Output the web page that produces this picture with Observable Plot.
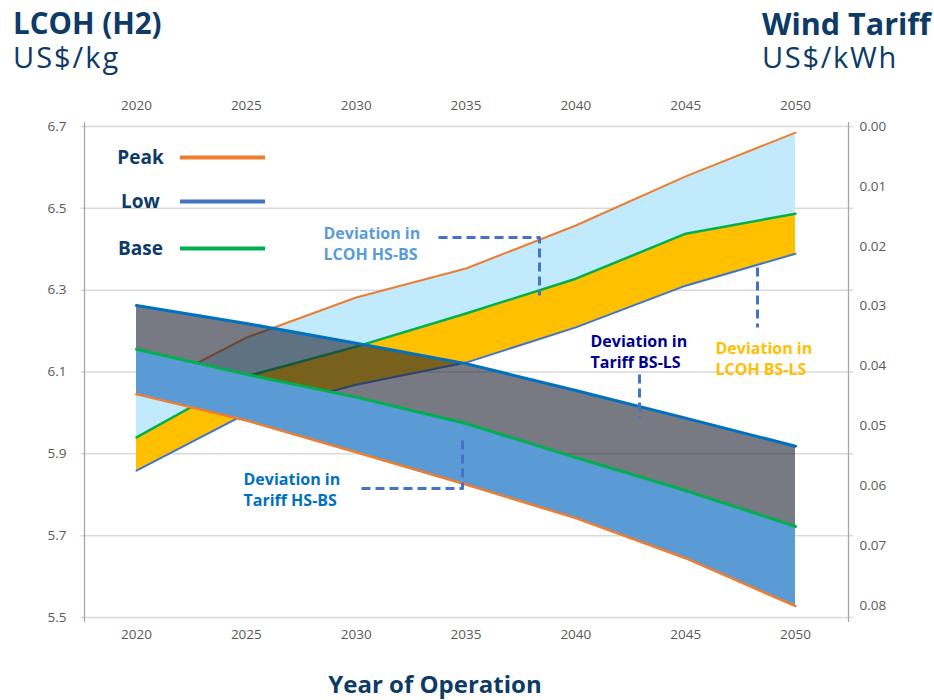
<!DOCTYPE html>
<html><head><meta charset="utf-8">
<script src="https://cdn.jsdelivr.net/npm/d3@7"></script>
<script src="https://cdn.jsdelivr.net/npm/@observablehq/plot@0.6"></script>
<style>
body{margin:0;background:#fff;}
#wrap{position:relative;width:934px;height:700px;font-family:"Open Sans",sans-serif;overflow:hidden;}
#wrap svg{position:absolute;left:0;top:0;}
.t{position:absolute;color:#0d3a66;line-height:1;white-space:nowrap;z-index:2;}
</style></head><body><div id="wrap">
<div class="t" style="left:13px;top:8px;font-size:29.5px;font-weight:700">LCOH (H2)</div>
<div class="t" style="left:13px;top:42px;font-size:29px;font-weight:400;letter-spacing:2px">US$/kg</div>
<div class="t" style="left:762px;top:8px;font-size:30.5px;font-weight:700">Wind Tariff</div>
<div class="t" style="left:762px;top:42px;font-size:29px;font-weight:400;letter-spacing:1.7px">US$/kWh</div>
<div class="t" style="left:0;width:870px;text-align:center;top:672px;font-size:24px;font-weight:700">Year of Operation</div>
</div>
<script>
// ---- data ----
const years = [2020, 2025, 2030, 2035, 2040, 2045, 2050];
// LCOH (US$/kg), left axis
const lcohPeak = [6.045, 6.184, 6.282, 6.353, 6.458, 6.578, 6.685];
const lcohBase = [5.940, 6.089, 6.162, 6.243, 6.328, 6.438, 6.487];
const lcohLow  = [5.859, 5.998, 6.069, 6.123, 6.209, 6.311, 6.389];
// Wind tariff (US$/kWh), right axis (reversed)
const tariffLow  = [0.0299, 0.0329, 0.0362, 0.0396, 0.0441, 0.0487, 0.0534];
const tariffBase = [0.0372, 0.0414, 0.0452, 0.0496, 0.0553, 0.0608, 0.0668];
const tariffPeak = [0.0447, 0.0491, 0.0544, 0.0598, 0.0654, 0.0721, 0.0801];
// axis ticks
const lcohTicks = [5.5, 5.7, 5.9, 6.1, 6.3, 6.5, 6.7];
const tariffTicks = [0.00, 0.01, 0.02, 0.03, 0.04, 0.05, 0.06, 0.07, 0.08];
// legend
const legendNames = ["Peak", "Low", "Base"];
const legendColors = ["#ed7d31", "#4472c4", "#00b050"];
// annotations
const annTexts = ["Deviation in\nLCOH HS-BS", "Deviation in\nTariff BS-LS", "Deviation in\nLCOH BS-LS", "Deviation in\nTariff HS-BS"];
const annColors = ["#5b9bd5", "#000090", "#ffc000", "#0070c0"];

// ---- layout ----
const W = 934, H = 700;
const mL = 84, mR = 86, mT = 126, mB = 83;
const pxPerYear = 21.967;
const xDomain = [2020 - (136 - mL) / pxPerYear, 2050 + (W - mR - 795) / pxPerYear];
const yDomain = [5.5, 6.7];
const pxPerY = (H - mT - mB) / (yDomain[1] - yDomain[0]);
const K = (yDomain[1] - yDomain[0]) / 0.082; // tariff 0..0.082 spans the full right axis
const tY = t => yDomain[1] - t * K;
const xAt = px => 2020 + (px - 136) / pxPerYear;
const yAt = py => yDomain[1] - (py - mT) / pxPerY;

const lcoh = years.map((x, i) => ({x, peak: lcohPeak[i], base: lcohBase[i], low: lcohLow[i]}));
const tariff = years.map((x, i) => ({x, peak: tY(tariffPeak[i]), base: tY(tariffBase[i]), low: tY(tariffLow[i])}));

const legend = legendNames.map((name, i) => ({name, color: legendColors[i], y: yAt([157, 201, 248][i])}));

const annPos = [[323, 242], [590, 350], [715, 357], [243, 488]];
const dashPaths = [
  [[438, 237], [539, 237], [539, 295]],
  [[639, 374], [639, 418]],
  [[757, 267], [757, 327]],
  [[361, 488], [462, 488], [462, 437]]
];
const dashData = dashPaths.flatMap((p, k) => p.map(([px, py]) => ({k, x: xAt(px), y: yAt(py)})));

const marks = [
  Plot.ruleY(lcohTicks, {x1: xAt(81), x2: xAt(853), stroke: "#d9d9d9", strokeWidth: 1.5}),
  Plot.ruleX([xDomain[0]], {y1: yAt(622), y2: yAt(122), stroke: "#a6a6a6", strokeWidth: 1.3}),
  Plot.ruleX([xDomain[1]], {y1: yAt(622), y2: yAt(122), stroke: "#a6a6a6", strokeWidth: 1.3}),
  // LCOH bands
  Plot.areaY(lcoh, {x: "x", y1: "base", y2: "peak", fill: "#c1ebfd"}),
  Plot.areaY(lcoh, {x: "x", y1: "low", y2: "base", fill: "#ffc000"}),
  Plot.line(lcoh, {x: "x", y: "peak", stroke: "#ed7d31", strokeWidth: 2}),
  Plot.line(lcoh, {x: "x", y: "base", stroke: "#00b050", strokeWidth: 2.5}),
  Plot.line(lcoh, {x: "x", y: "low", stroke: "#4472c4", strokeWidth: 2}),
  // Tariff bands
  Plot.areaY(tariff, {x: "x", y1: "peak", y2: "base", fill: "#5b9bd5"}),
  Plot.areaY(tariff, {x: "x", y1: "base", y2: "low", fill: "#1c2230", fillOpacity: 0.6}),
  Plot.line(tariff, {x: "x", y: "peak", stroke: "#ed7d31", strokeWidth: 2.5}),
  Plot.line(tariff, {x: "x", y: "base", stroke: "#00b050", strokeWidth: 3}),
  Plot.line(tariff, {x: "x", y: "low", stroke: "#0070c0", strokeWidth: 3}),
  // axes
  Plot.axisX({anchor: "top", label: null, ticks: years, tickFormat: d => String(d), tickSize: 0, tickPadding: 17, fontSize: 13.5}),
  Plot.axisX({anchor: "bottom", label: null, ticks: years, tickFormat: d => String(d), tickSize: 0, tickPadding: 12, fontSize: 13.5}),
  Plot.axisY({anchor: "left", label: null, ticks: lcohTicks, tickFormat: d => d.toFixed(1), tickSize: 0, tickPadding: 18, fontSize: 13.5}),
  Plot.axisY({anchor: "right", label: null, ticks: tariffTicks.map(tY), tickFormat: d => Math.abs((yDomain[1] - d) / K).toFixed(2), tickSize: 0, tickPadding: 11, fontSize: 13.5}),
  // legend
  Plot.ruleY(legend, {y: "y", x1: xAt(180), x2: xAt(265), stroke: "color", strokeWidth: 4}),
  Plot.text(legend, {x: xAt(140), y: "y", text: "name", fill: "#0d3a66", fontWeight: "bold", fontSize: 19, textAnchor: "middle"}),
  // annotations
  Plot.line(dashData, {x: "x", y: "y", z: "k", stroke: "#4472c4", strokeWidth: 3, strokeDasharray: "9,5", strokeLinecap: "butt"}),
  ...annTexts.map((t, i) => Plot.text([t], {x: xAt(annPos[i][0]), y: yAt(annPos[i][1]), text: d => d, fill: annColors[i], fontWeight: "bold", fontSize: 16, lineHeight: 1.37, textAnchor: "start"}))
];

const chart = Plot.plot({
  width: W, height: H,
  marginLeft: mL, marginRight: mR, marginTop: mT, marginBottom: mB,
  x: {domain: xDomain, axis: null},
  y: {domain: yDomain, axis: null},
  color: {type: "identity"},
  style: {fontFamily: "Open Sans, sans-serif", color: "#595959", background: "transparent", overflow: "visible"},
  marks
});
document.getElementById("wrap").appendChild(chart);
</script>
</body></html>
